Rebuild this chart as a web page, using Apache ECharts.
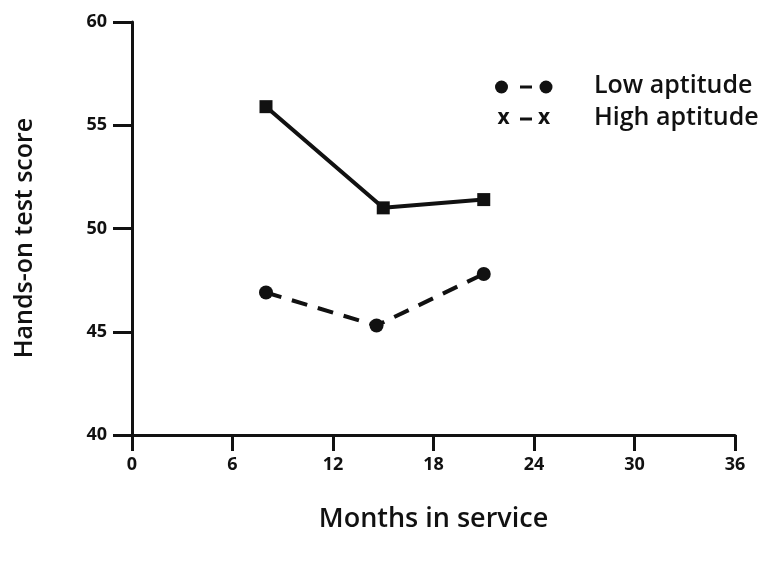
<!DOCTYPE html>
<html>
<head>
<meta charset="utf-8">
<script src="https://cdn.jsdelivr.net/npm/echarts@6/dist/echarts.min.js"></script>
<style>
  html, body { margin: 0; padding: 0; background: #fff; }
  #chart { width: 773px; height: 565px; }
</style>
</head>
<body>
<div id="chart"></div>
<script>
// Months in service at which each group was tested
const lowMonths = [8, 14.6, 21];
const highMonths = [8, 15, 21];
// Mean hands-on test scores
const lowScores = [46.9, 45.3, 47.8];
const highScores = [55.9, 51.0, 51.4];

const xTicks = [0, 6, 12, 18, 24, 30, 36];
const yTicks = [40, 45, 50, 55, 60];

const FONT = '"Open Sans", "Noto Sans", sans-serif';
const INK = '#111';

const chart = echarts.init(document.getElementById('chart'), null, { renderer: 'canvas' });

// Key drawn beside the curves: marker glyphs and labels, plus the vertical axis title
const extras = [
  { type: 'circle', shape: { cx: 501.5, cy: 87, r: 6.5 }, style: { fill: INK } },
  { type: 'line', shape: { x1: 520, y1: 87, x2: 532, y2: 87 }, style: { stroke: INK, lineWidth: 3 } },
  { type: 'circle', shape: { cx: 546, cy: 87, r: 6.5 }, style: { fill: INK } },
  { type: 'text', x: 503.5, y: 118, style: { text: 'x', fontFamily: FONT, fontSize: 21, fontWeight: 'bold', fill: INK, align: 'center', verticalAlign: 'middle' } },
  { type: 'line', shape: { x1: 520, y1: 119, x2: 532, y2: 119 }, style: { stroke: INK, lineWidth: 3 } },
  { type: 'text', x: 544, y: 118, style: { text: 'x', fontFamily: FONT, fontSize: 21, fontWeight: 'bold', fill: INK, align: 'center', verticalAlign: 'middle' } },
  { type: 'text', x: 594, y: 86, style: { text: 'Low aptitude', fontFamily: FONT, fontSize: 25, fontWeight: 600, fill: INK, verticalAlign: 'middle' } },
  { type: 'text', x: 594, y: 118, style: { text: 'High aptitude', fontFamily: FONT, fontSize: 25, fontWeight: 600, fill: INK, verticalAlign: 'middle' } },
  { type: 'text', x: 25, y: 238, rotation: Math.PI / 2, style: { text: 'Hands-on test score', fontFamily: FONT, fontSize: 25, fontWeight: 600, fill: INK, align: 'center', verticalAlign: 'middle' } }
];

chart.setOption({
  backgroundColor: '#ffffff',
  animation: false,
  grid: { left: 132, right: 38, top: 22, bottom: 130, containLabel: false },
  xAxis: {
    type: 'value',
    min: xTicks[0],
    max: xTicks[xTicks.length - 1],
    interval: 6,
    name: 'Months in service',
    nameLocation: 'middle',
    nameGap: 71,
    nameTextStyle: { fontFamily: FONT, fontSize: 27, fontWeight: 600, color: INK },
    axisLine: { show: true, lineStyle: { color: INK, width: 3 } },
    axisTick: { show: true, inside: false, length: 16, lineStyle: { color: INK, width: 3 } },
    axisLabel: { fontFamily: FONT, fontSize: 18, fontWeight: 'bold', color: INK, margin: 21 },
    splitLine: { show: false }
  },
  yAxis: {
    type: 'value',
    min: yTicks[0],
    max: yTicks[yTicks.length - 1],
    interval: 5,
    axisLine: { show: true, lineStyle: { color: INK, width: 3 } },
    axisTick: { show: true, inside: false, length: 19, lineStyle: { color: INK, width: 3 } },
    axisLabel: { fontFamily: FONT, fontSize: 18, fontWeight: 'bold', color: INK, margin: 25 },
    splitLine: { show: false }
  },
  series: [
    {
      name: 'High aptitude',
      type: 'line',
      data: highMonths.map((m, i) => [m, highScores[i]]),
      symbol: 'rect',
      symbolSize: 13,
      lineStyle: { color: INK, width: 4, type: 'solid' },
      itemStyle: { color: INK },
      z: 3
    },
    {
      name: 'Low aptitude',
      type: 'line',
      data: lowMonths.map((m, i) => [m, lowScores[i]]),
      symbol: 'circle',
      symbolSize: 14,
      lineStyle: { color: INK, width: 4, type: [16, 11] },
      itemStyle: { color: INK },
      z: 3
    }
  ],
  graphic: extras
});
</script>
</body>
</html>
